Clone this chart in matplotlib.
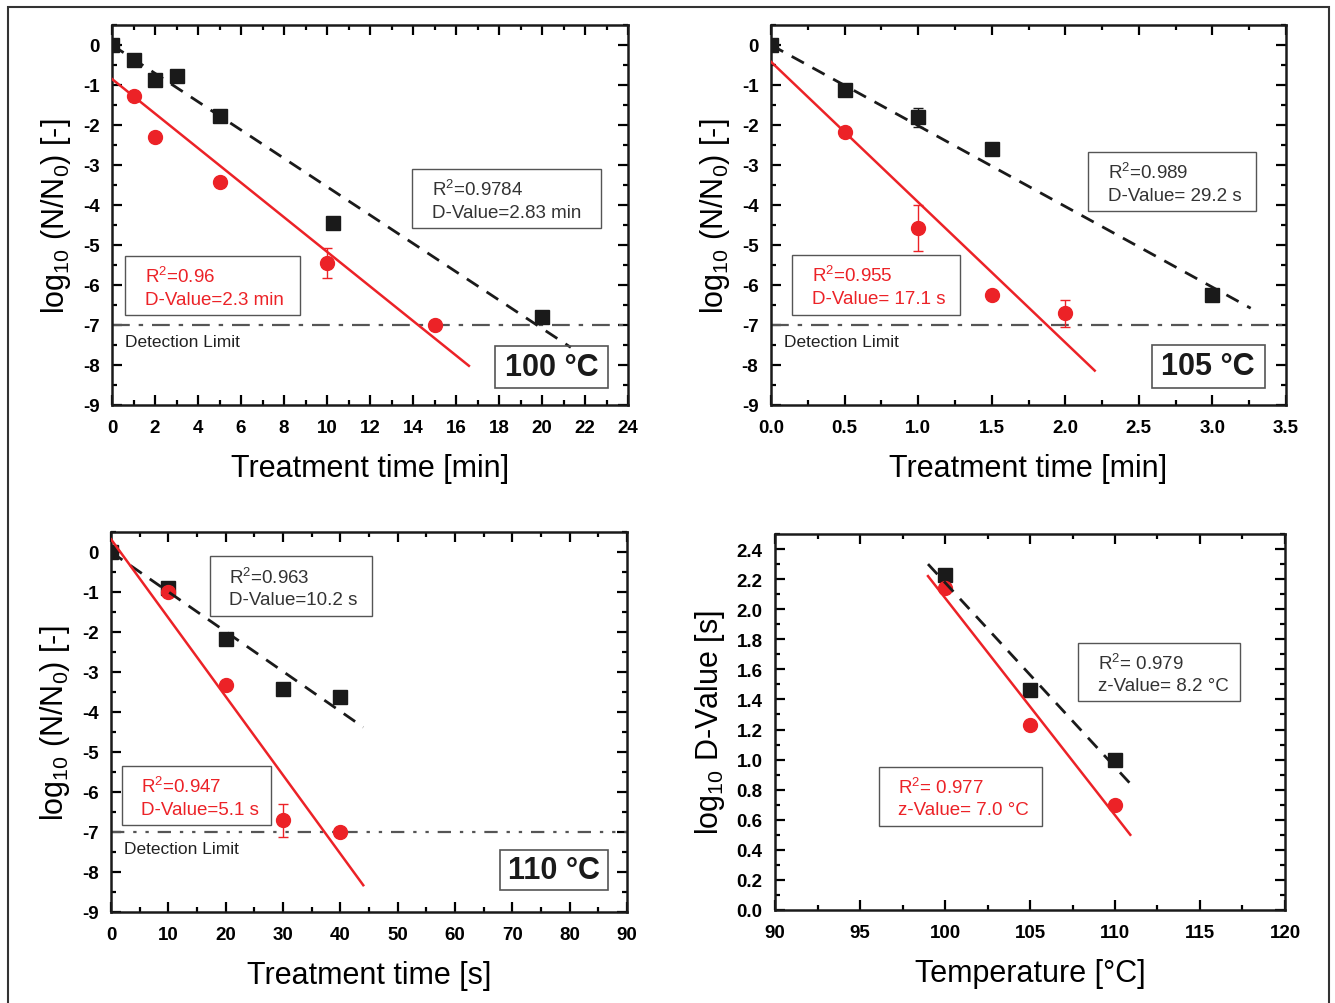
import matplotlib

matplotlib.use("Agg")
import matplotlib.pyplot as plt
from matplotlib.patches import Rectangle
from matplotlib.ticker import MultipleLocator

plt.rc("font", family="Liberation Sans")
plt.rc("axes", unicode_minus=False)
plt.rc("mathtext", fontset="custom", rm="Liberation Sans", it="Liberation Sans:italic",
       bf="Liberation Sans:bold", default="regular")

RED = "#ec2227"
BLACK = "#1a1a1a"
GREY = "#555555"

# 100 C
t100_black = [0, 1, 2, 3, 5, 10.3, 20]
y100_black = [0, -0.38, -0.88, -0.78, -1.78, -4.46, -6.79]
t100_red = [1, 2, 5, 10, 15]
y100_red = [-1.28, -2.31, -3.43, -5.45, -7.0]
e100_red = [0, 0, 0.1, 0.38, 0]
fit100_black = ([0, 21.34], [0, -7.56])
fit100_red = ([0, 16.6], [-0.85, -8.02])

# 105 C
t105_black = [0, 0.5, 1.0, 1.5, 3.0]
y105_black = [0, -1.13, -1.81, -2.59, -6.26]
e105_black = [0, 0, 0.24, 0, 0]
t105_red = [0.5, 1.0, 1.5, 2.0]
y105_red = [-2.17, -4.57, -6.24, -6.71]
e105_red = [0, 0.58, 0, 0.33]
fit105_black = ([0, 3.26], [0, -6.58])
fit105_red = ([0, 2.2], [-0.42, -8.14])

# 110 C
t110_black = [0, 10, 20, 30, 40]
y110_black = [0, -0.89, -2.18, -3.43, -3.63]
t110_red = [10, 20, 30, 40]
y110_red = [-1.0, -3.33, -6.71, -7.0]
e110_red = [0, 0, 0.42, 0]
fit110_black = ([0, 44], [0, -4.38])
fit110_red = ([0, 44], [0.32, -8.33])

# z-value plot
temps = [100, 105, 110]
logd_black = [2.23, 1.46, 1.0]
logd_red = [2.14, 1.23, 0.70]
fitz_black = ([99, 110.9], [2.30, 0.84])
fitz_red = ([99, 110.9], [2.22, 0.50])

DETECTION = -7


def style_axes(ax, xmaj, xmin, ymaj, ymin):
    ax.xaxis.set_major_locator(MultipleLocator(xmaj))
    ax.xaxis.set_minor_locator(MultipleLocator(xmin))
    ax.yaxis.set_major_locator(MultipleLocator(ymaj))
    ax.yaxis.set_minor_locator(MultipleLocator(ymin))
    ax.tick_params(which="both", direction="in", top=True, right=True, width=1.6,
                   labelsize=13.5)
    ax.tick_params(axis="x", pad=10)
    ax.tick_params(axis="y", pad=9)
    ax.tick_params(which="major", length=7)
    ax.tick_params(which="minor", length=3.5)
    for lbl in ax.get_xticklabels() + ax.get_yticklabels():
        lbl.set_fontweight("bold")
    for sp in ax.spines.values():
        sp.set_linewidth(1.8)
        sp.set_color(BLACK)


def text_box(ax, x0, y0, x1, y1, lines, color):
    ax.add_patch(Rectangle((x0, y0), x1 - x0, y1 - y0, transform=ax.transAxes,
                           fill=False, edgecolor=GREY, linewidth=1.0, zorder=6))
    h = y1 - y0
    ax.text(x0 + 0.038, y1 - 0.34 * h, lines[0], transform=ax.transAxes,
            color=color, fontsize=13.5, va="center", ha="left", zorder=7)
    ax.text(x0 + 0.038, y1 - 0.73 * h, lines[1], transform=ax.transAxes,
            color=color, fontsize=13.5, va="center", ha="left", zorder=7)


def temp_box(ax, x0, y0, x1, y1, label):
    ax.add_patch(Rectangle((x0, y0), x1 - x0, y1 - y0, transform=ax.transAxes,
                           fill=False, edgecolor=GREY, linewidth=1.2, zorder=6))
    ax.text((x0 + x1) / 2, (y0 + y1) / 2, label, transform=ax.transAxes,
            fontsize=22, fontweight="bold", ha="center", va="center", color=BLACK,
            zorder=7)


def kinetics_panel(ax, tb, yb, eb, tr, yr, er, fb, fr, dls):
    ax.axhline(DETECTION, color=GREY, linestyle=dls, linewidth=1.6, zorder=2)
    ax.errorbar(tb, yb, yerr=eb, fmt="s", color=BLACK, markersize=9.5, capsize=3.5,
                elinewidth=1, capthick=1, zorder=4)
    ax.errorbar(tr, yr, yerr=er, fmt="o", color=RED, markersize=10, capsize=3.5,
                elinewidth=1, capthick=1, zorder=4)
    ax.plot(fb[0], fb[1], color=BLACK, linestyle=(0, (5, 3.5)), linewidth=2, zorder=5)
    ax.plot(fr[0], fr[1], color=RED, linewidth=1.8, zorder=5)
    ax.set_ylim(-9, 0.5)
    ax.set_ylabel(r"log$_{10}$ (N/N$_0$) [-]", fontsize=22, labelpad=7)
    ax.text(0.025, 0.168, "Detection Limit", transform=ax.transAxes, fontsize=12.5,
            va="center", ha="left", color="#222222")


fig = plt.figure(figsize=(13.35, 10.04), dpi=100)
fig.patches.append(Rectangle((8 / 1335, -0.05), 1321 / 1335, 1.05 - 8 / 1004,
                             transform=fig.transFigure, fill=False,
                             edgecolor="#333333", linewidth=1.5))

ax1 = fig.add_axes([112 / 1335, 1 - 406 / 1004, 516 / 1335, 380 / 1004])
ax2 = fig.add_axes([771 / 1335, 1 - 406 / 1004, 515 / 1335, 380 / 1004])
ax3 = fig.add_axes([111 / 1335, 1 - 913 / 1004, 516 / 1335, 380 / 1004])
ax4 = fig.add_axes([775 / 1335, 1 - 911 / 1004, 510 / 1335, 376 / 1004])

# 100 C
kinetics_panel(ax1, t100_black, y100_black, None, t100_red, y100_red, e100_red,
               fit100_black, fit100_red, (0, (8, 4, 2, 4)))
ax1.set_xlim(0, 24)
style_axes(ax1, 2, 1, 1, 0.5)
ax1.set_xlabel("Treatment time [min]", fontsize=22, labelpad=12)
text_box(ax1, 0.582, 0.466, 0.947, 0.620, [r"R$^2$=0.9784", "D-Value=2.83 min"], "#333333")
text_box(ax1, 0.025, 0.236, 0.365, 0.391, [r"R$^2$=0.96", "D-Value=2.3 min"], RED)
temp_box(ax1, 0.743, 0.044, 0.962, 0.155, "100 °C")

# 105 C
kinetics_panel(ax2, t105_black, y105_black, e105_black, t105_red, y105_red, e105_red,
               fit105_black, fit105_red, (0, (8, 4, 2, 4)))
ax2.set_xlim(0, 3.5)
style_axes(ax2, 0.5, 0.25, 1, 0.5)
ax2.set_xlabel("Treatment time [min]", fontsize=22, labelpad=12)
text_box(ax2, 0.616, 0.510, 0.941, 0.665, [r"R$^2$=0.989", "D-Value= 29.2 s"], "#333333")
text_box(ax2, 0.041, 0.238, 0.367, 0.394, [r"R$^2$=0.955", "D-Value= 17.1 s"], RED)
temp_box(ax2, 0.739, 0.046, 0.959, 0.158, "105 °C")

# 110 C
kinetics_panel(ax3, t110_black, y110_black, None, t110_red, y110_red, e110_red,
               fit110_black, fit110_red, (0, (6, 4, 1.5, 4, 1.5, 4)))
ax3.set_xlim(0, 90)
style_axes(ax3, 10, 5, 1, 0.5)
ax3.set_xlabel("Treatment time [s]", fontsize=22, labelpad=12)
text_box(ax3, 0.191, 0.780, 0.505, 0.936, [r"R$^2$=0.963", "D-Value=10.2 s"], "#333333")
text_box(ax3, 0.021, 0.228, 0.310, 0.384, [r"R$^2$=0.947", "D-Value=5.1 s"], RED)
temp_box(ax3, 0.754, 0.057, 0.964, 0.163, "110 °C")

# z-value
ax4.plot(temps, logd_black, "s", color=BLACK, markersize=9.5, zorder=4)
ax4.plot(temps, logd_red, "o", color=RED, markersize=10, zorder=4)
ax4.plot(fitz_black[0], fitz_black[1], color=BLACK, linestyle=(0, (5, 3.5)),
         linewidth=2, zorder=5)
ax4.plot(fitz_red[0], fitz_red[1], color=RED, linewidth=1.8, zorder=5)
ax4.set_xlim(90, 120)
ax4.set_ylim(0, 2.5)
style_axes(ax4, 5, 2.5, 0.2, 0.1)
ax4.set_xlabel("Temperature [°C]", fontsize=22, labelpad=12)
ax4.set_ylabel(r"log$_{10}$ D-Value [s]", fontsize=22, labelpad=7)
text_box(ax4, 0.595, 0.556, 0.912, 0.711, [r"R$^2$= 0.979", "z-Value= 8.2 °C"], "#333333")
text_box(ax4, 0.204, 0.224, 0.523, 0.380, [r"R$^2$= 0.977", "z-Value= 7.0 °C"], RED)

fig.savefig("out.png", dpi=100)
